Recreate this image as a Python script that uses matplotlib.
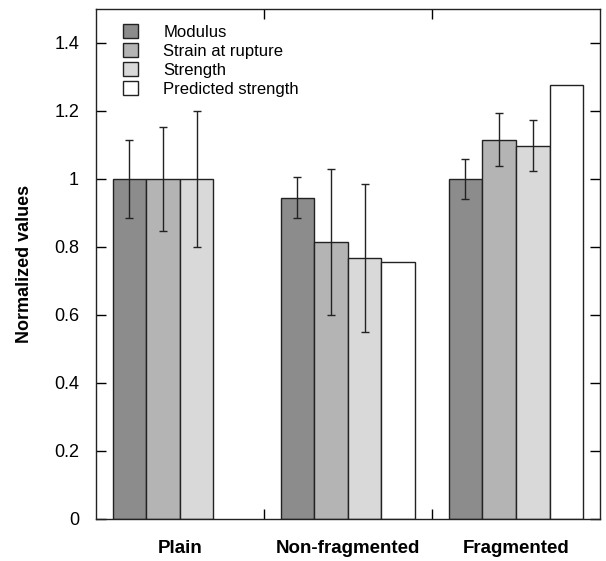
#!/usr/bin/env python3

import numpy as np
import matplotlib.pyplot as plt

plt.rcParams["font.family"] = ["Liberation Sans", "DejaVu Sans"]

groups = ["Plain", "Non-fragmented", "Fragmented"]
series = ["Modulus", "Strain at rupture", "Strength", "Predicted strength"]

modulus = [1.0, 0.945, 1.0]
modulus_err = [0.115, 0.06, 0.058]
strain = [1.0, 0.815, 1.115]
strain_err = [0.152, 0.215, 0.078]
strength = [1.0, 0.767, 1.097]
strength_err = [0.2, 0.218, 0.075]
predicted = [None, 0.756, 1.277]

colors = ["#8c8c8c", "#b4b4b4", "#d9d9d9", "#ffffff"]

fig = plt.figure(figsize=(6.06, 5.61), dpi=100)
ax = fig.add_axes([0.158, 0.075, 0.832, 0.909])

width = 0.2
x = np.arange(len(groups))
values = [modulus, strain, strength]
errors = [modulus_err, strain_err, strength_err]

for j in range(3):
    ax.bar(x + 0.2 + width * j, values[j], width, color=colors[j],
           edgecolor="#222222", linewidth=1.0, label=series[j],
           yerr=errors[j], capsize=3,
           error_kw=dict(elinewidth=1.0, capthick=1.0, ecolor="#222222"))

# predicted strength only exists for the two fibre cases
px = [i for i in x if predicted[i] is not None]
pv = [predicted[i] for i in px]
ax.bar(np.array(px) + 0.2 + width * 3, pv, width, color=colors[3],
       edgecolor="#222222", linewidth=1.0, label=series[3])

ax.set_xlim(0, 3)
ax.set_ylim(0, 1.5)

ax.set_xticks([1, 2])
ax.set_xticklabels([])
ax.set_xticks([0.5, 1.5, 2.5], minor=True)
ax.set_xticklabels(groups, minor=True, fontsize=13.5, fontweight="bold")
ax.tick_params(axis="x", which="minor", length=0, pad=15)
ax.tick_params(axis="x", which="major", direction="in", length=7,
               top=True, width=1)

ax.set_yticks([0, 0.2, 0.4, 0.6, 0.8, 1.0, 1.2, 1.4])
ax.set_yticklabels(["0", "0.2", "0.4", "0.6", "0.8", "1", "1.2", "1.4"])
ax.tick_params(axis="y", direction="in", length=7, right=True,
               labelsize=13, pad=12, width=1)

ax.set_ylabel("Normalized values", fontsize=13, fontweight="bold",
              labelpad=15)

for s in ax.spines.values():
    s.set_linewidth(1.0)
    s.set_color("#222222")

ax.legend(loc="upper left", bbox_to_anchor=(0.025, 1.0), frameon=False,
          fontsize=12, handlelength=0.9, handleheight=0.9,
          handletextpad=1.5, labelspacing=0.2, borderaxespad=0.5)

fig.savefig("out.png", dpi=100)
